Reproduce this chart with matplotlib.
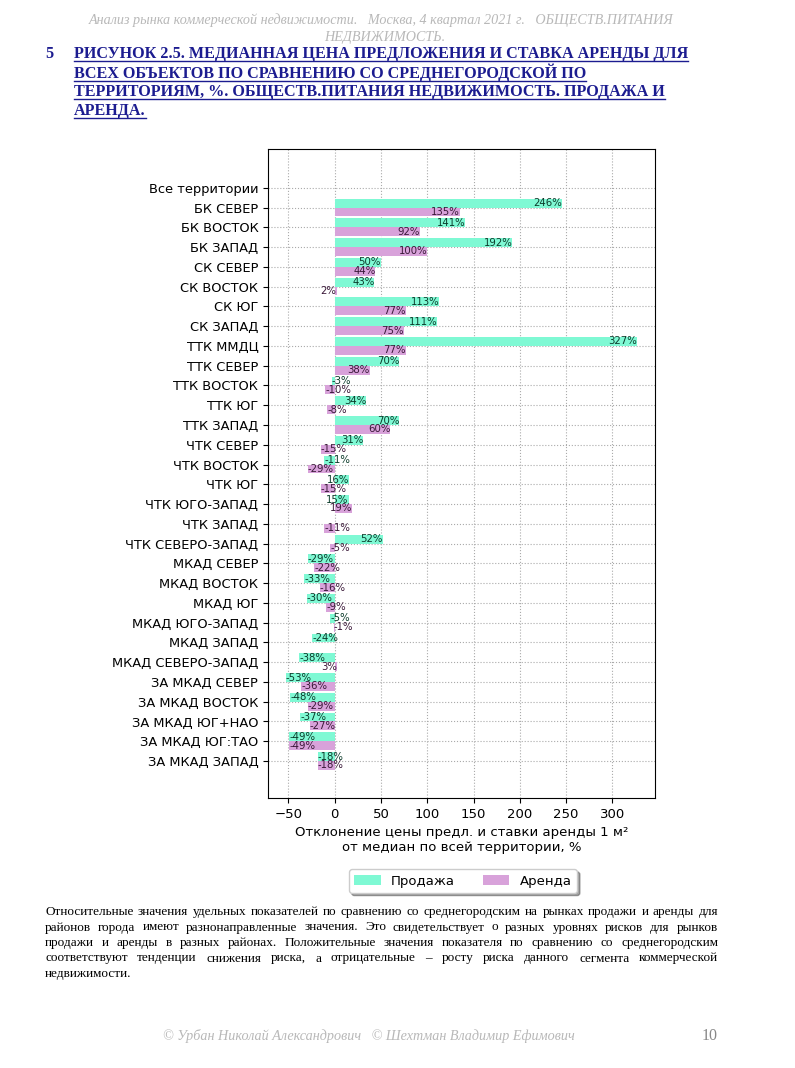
import matplotlib

matplotlib.use("Agg")
import matplotlib.pyplot as plt
import numpy as np
from matplotlib.lines import Line2D

# --- data ----------------------------------------------------------------
territories = [
    "Все территории", "БК СЕВЕР", "БК ВОСТОК", "БК ЗАПАД", "СК СЕВЕР",
    "СК ВОСТОК", "СК ЮГ", "СК ЗАПАД", "ТТК ММДЦ", "ТТК СЕВЕР",
    "ТТК ВОСТОК", "ТТК ЮГ", "ТТК ЗАПАД", "ЧТК СЕВЕР", "ЧТК ВОСТОК",
    "ЧТК ЮГ", "ЧТК ЮГО-ЗАПАД", "ЧТК ЗАПАД", "ЧТК СЕВЕРО-ЗАПАД", "МКАД СЕВЕР",
    "МКАД ВОСТОК", "МКАД ЮГ", "МКАД ЮГО-ЗАПАД", "МКАД ЗАПАД", "МКАД СЕВЕРО-ЗАПАД",
    "ЗА МКАД СЕВЕР", "ЗА МКАД ВОСТОК", "ЗА МКАД ЮГ+НАО", "ЗА МКАД ЮГ:ТАО", "ЗА МКАД ЗАПАД",
]
sale = [
    np.nan, 246, 141, 192, 50, 43, 113, 111, 327, 70,
    -3, 34, 70, 31, -11, 16, 15, np.nan, 52, -29,
    -33, -30, -5, -24, -38, -53, -48, -37, -49, -18,
]
rent = [
    np.nan, 135, 92, 100, 44, 2, 77, 75, 77, 38,
    -10, -8, 60, -15, -29, -15, 19, -11, -5, -22,
    -16, -9, -1, np.nan, 3, -36, -29, -27, -49, -18,
]

header_1 = "Анализ рынка коммерческой недвижимости.   Москва, 4 квартал 2021 г.   ОБЩЕСТВ.ПИТАНИЯ"
header_2 = "НЕДВИЖИМОСТЬ."
title_lines = [
    "РИСУНОК 2.5. МЕДИАННАЯ ЦЕНА ПРЕДЛОЖЕНИЯ И СТАВКА АРЕНДЫ ДЛЯ",
    "ВСЕХ ОБЪЕКТОВ ПО СРАВНЕНИЮ СО СРЕДНЕГОРОДСКОЙ ПО",
    "ТЕРРИТОРИЯМ, %. ОБЩЕСТВ.ПИТАНИЯ НЕДВИЖИМОСТЬ. ПРОДАЖА И",
    "АРЕНДА.",
]
para_lines = [
    "Относительные значения удельных показателей по сравнению со среднегородским на рынках продажи и аренды для",
    "районов города имеют разнонаправленные значения. Это свидетельствует о разных уровнях рисков для рынков",
    "продажи и аренды в разных районах. Положительные значения показателя по сравнению со среднегородским",
    "соответствуют тенденции снижения риска, а отрицательные – росту риска данного сегмента коммерческой",
    "недвижимости.",
]
footer = "© Урбан Николай Александрович   © Шехтман Владимир Ефимович"

SALE_C = "#7ff9d4"
RENT_C = "#d8a2da"
W, H = 795, 1068

fig = plt.figure(figsize=(W / 100, H / 100), dpi=100)
ax = fig.add_axes([268 / W, 1 - 798 / H, 387 / W, 649 / H])

y = np.arange(len(territories))
bh = 0.45
ax.barh(y - bh / 2, sale, height=bh, color=SALE_C, label="Продажа", zorder=2)
ax.barh(y + bh / 2, rent, height=bh, color=RENT_C, label="Аренда", zorder=2)


def _label(vals, offset, color):
    for yi, v in zip(y, vals):
        if np.isnan(v):
            continue
        ha = "right" if v >= 0 else "left"
        ax.text(v, yi + offset, f"{v:.0f}%", ha=ha, va="center",
                fontsize=7.3, color=color, zorder=3)


_label(sale, -bh / 2, "#0b3b2a")
_label(rent, bh / 2, "#3a1838")

ax.set_yticks(y)
ax.set_yticklabels(territories, fontsize=9.4)
ax.set_ylim(30.87, -1.96)
ax.set_xticks([-50, 0, 50, 100, 150, 200, 250, 300])
ax.tick_params(axis="x", labelsize=9.5)
ax.grid(True, linestyle=":", color="#aaaaaa", linewidth=0.8, zorder=0)
ax.set_axisbelow(True)
ax.set_xlabel("Отклонение цены предл. и ставки аренды 1 м²\nот медиан по всей территории, %",
              fontsize=9.5, labelpad=4)
ax.legend(loc="center", bbox_to_anchor=(463 / W, 1 - 881 / H),
          bbox_transform=fig.transFigure, ncol=2, fontsize=9.5,
          shadow=True, fancybox=True, handlelength=2.0, columnspacing=2.1)

# --- page text -------------------------------------------------------------
gray = "#b8b8b8"
fig.text(381 / W, 1 - 20 / H, header_1, ha="center", va="center", family="Liberation Serif",
         style="italic", fontsize=10.2, color=gray)
fig.text(385 / W, 1 - 37 / H, header_2, ha="center", va="center", family="Liberation Serif",
         style="italic", fontsize=10.2, color=gray)

navy = "#1c1c90"
fig.text(45 / W, 1 - 54 / H, "5", ha="left", va="center", family="Liberation Serif",
         weight="bold", fontsize=11.6, color=navy)
title_texts = []
for i, line in enumerate(title_lines):
    t = fig.text(74 / W, 1 - (54 + 19 * i) / H, line, ha="left", va="center",
                 family="Liberation Serif", weight="bold", fontsize=11.6, color=navy)
    title_texts.append(t)

fig.text(369 / W, 1 - 1036 / H, footer, ha="center", va="center", family="Liberation Serif",
         style="italic", fontsize=10.2, color=gray)
fig.text(718 / W, 1 - 1036 / H, "10", ha="right", va="center", family="Liberation Serif",
         fontsize=11.5, color="#888888")

renderer = fig.canvas.get_renderer()

# underline the title lines
for t in title_texts:
    bb = t.get_window_extent(renderer)
    yline = (bb.y0 + 1) / H
    fig.add_artist(Line2D([bb.x0 / W, bb.x1 / W], [yline, yline], color=navy,
                          linewidth=1.0, transform=fig.transFigure))

# justified paragraph
x_left, x_right = 45, 718
for i, line in enumerate(para_lines):
    yy = 1 - (912 + 15.5 * i) / H
    words = line.split(" ")
    if i == len(para_lines) - 1:
        fig.text(x_left / W, yy, line, ha="left", va="center", family="Liberation Serif",
                 fontsize=9.5, color="black")
        continue
    objs = [fig.text(0, yy, wd, ha="left", va="center", family="Liberation Serif",
                     fontsize=9.5, color="black") for wd in words]
    widths = [o.get_window_extent(renderer).width for o in objs]
    gap = (x_right - x_left - sum(widths)) / (len(words) - 1)
    x = x_left
    for o, w in zip(objs, widths):
        o.set_x(x / W)
        x += w + gap

fig.savefig("out.png", dpi=100)
